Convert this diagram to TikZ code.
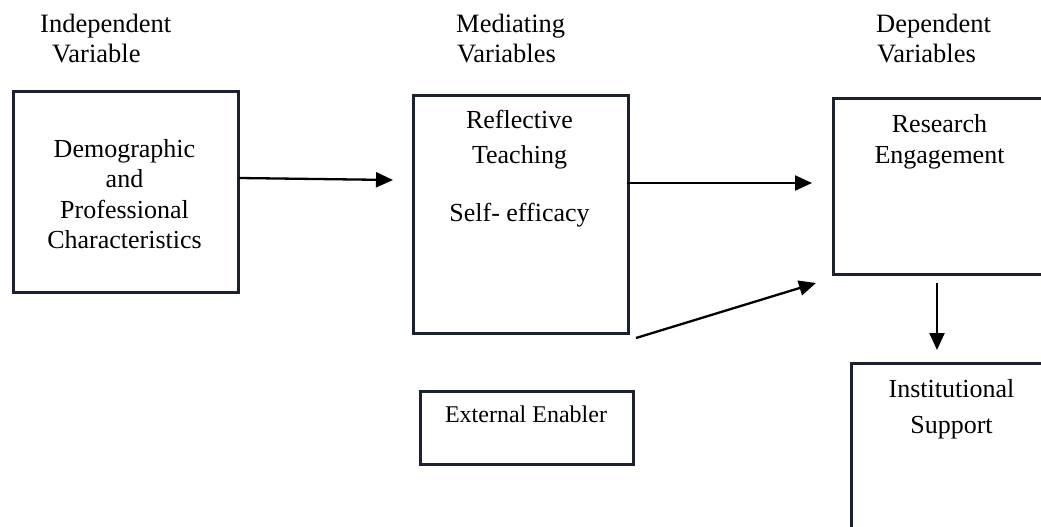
\documentclass[tikz,border=0pt]{standalone}
\usepackage{fontspec}
\setmainfont{Liberation Serif}
\usetikzlibrary{arrows.meta}
\definecolor{boxcol}{HTML}{1B2130}
\begin{document}
\begin{tikzpicture}[x=1pt,y=-1pt,
  box/.style={draw=boxcol, line width=2.6pt, inner sep=0pt, anchor=north west},
  lbl/.style={inner sep=0pt, anchor=base, font=\fontsize{26}{30}\selectfont},
  small/.style={inner sep=0pt, anchor=base, font=\fontsize{24}{28}\selectfont},
  hdr/.style={inner sep=0pt, anchor=base west, font=\fontsize{26.5}{30}\selectfont},
  arr/.style={line width=2.3pt, draw=black, -{Triangle[length=17pt,width=15pt]}}]
\useasboundingbox (0,0) rectangle (1041,527);
\begin{scope}
\clip (0,0) rectangle (1041,527);
% headers
\node[hdr] (h1a) at (40,33) {Independent};
\node[hdr] (h1b) at (52,63) {Variable};
\node[hdr] (h2a) at (456,33) {Mediating};
\node[hdr] (h2b) at (457,63) {Variables};
\node[hdr] (h3a) at (876,33) {Dependent};
\node[hdr] (h3b) at (877,63) {Variables};
% boxes
\node[box, minimum width=225, minimum height=201] (b1) at (12,90) {};
\node[box, minimum width=215, minimum height=238] (b2) at (412,94) {};
\node[box, minimum width=214, minimum height=176] (b3) at (832,97) {};
\node[box, minimum width=203, minimum height=198] (b4) at (850,362) {};
\node[box, minimum width=213, minimum height=73] (b5) at (419,390) {};
% box texts
\node[lbl] (t1a) at (124.5,157) {Demographic};
\node[lbl] (t1b) at (124.5,187.5) {and};
\node[lbl] (t1c) at (124.5,218) {Professional};
\node[lbl] (t1d) at (124.5,248) {Characteristics};
\node[lbl] (t2a) at (519.5,128) {Reflective};
\node[lbl] (t2b) at (519.5,163) {Teaching};
\node[lbl] (t2c) at (519.5,221) {Self- efficacy};
\node[lbl] (t3a) at (939.5,132) {Research};
\node[lbl] (t3b) at (939.5,163) {Engagement};
\node[lbl] (t4a) at (951.5,397) {Institutional};
\node[lbl] (t4b) at (951.5,433) {Support};
\node[small] (t5) at (526,422) {External Enabler};
% connector end points
\coordinate (a1s) at (239,178);
\coordinate (a1e) at (393,180);
\coordinate (a2s) at (627,183);
\coordinate (a2e) at (812,183);
\coordinate (a3s) at (636,338);
\coordinate (a3e) at (816,283);
\coordinate (a4s) at (937,283);
\coordinate (a4e) at (937,350);
\draw[arr] (a1s) -- (a1e);
\draw[arr] (a2s) -- (a2e);
\draw[arr] (a3s) -- (a3e);
\draw[arr] (a4s) -- (a4e);
\end{scope}
\end{tikzpicture}
\end{document}
